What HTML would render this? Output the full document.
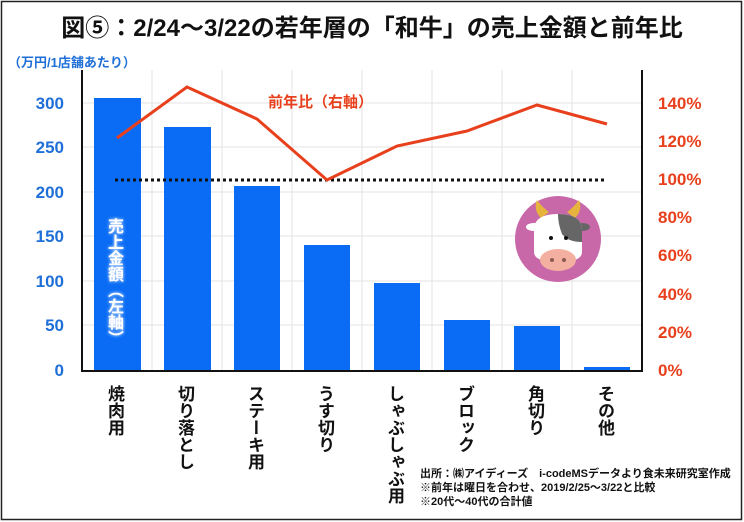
<!DOCTYPE html>
<html><head><meta charset="utf-8"><style>
body{margin:0;background:#fff;}
#c{position:relative;width:744px;height:522px;overflow:hidden;font-family:"Liberation Sans","Noto Sans CJK JP",sans-serif;}
.v{position:absolute;writing-mode:vertical-rl;font-weight:bold;font-size:17px;color:#111;line-height:1;letter-spacing:0px;font-family:"Noto Sans CJK JP",sans-serif;}
</style></head><body><div id="c">
<svg width="744" height="522" style="position:absolute;left:0;top:0" font-family="Liberation Sans, Noto Sans CJK JP, sans-serif">
<rect x="1.5" y="1.5" width="740" height="518" fill="#fff" stroke="#222" stroke-width="1.5"/>
<text x="372" y="36" text-anchor="middle" font-size="24" font-weight="bold" fill="#111">図⑤：2/24～3/22の若年層の「和牛」の売上金額と前年比</text>
<text x="8" y="67" font-size="13" font-weight="bold" fill="#1f6fd8">（万円/1店舗あたり）</text>
<g stroke="#e3e3e3" stroke-width="1">
<line x1="152" y1="70" x2="152" y2="370"/><line x1="222" y1="70" x2="222" y2="370"/><line x1="292" y1="70" x2="292" y2="370"/><line x1="362" y1="70" x2="362" y2="370"/><line x1="432" y1="70" x2="432" y2="370"/><line x1="502" y1="70" x2="502" y2="370"/><line x1="572" y1="70" x2="572" y2="370"/>
<line x1="82" y1="103" x2="642" y2="103"/><line x1="82" y1="147" x2="642" y2="147"/><line x1="82" y1="192" x2="642" y2="192"/><line x1="82" y1="236" x2="642" y2="236"/><line x1="82" y1="281" x2="642" y2="281"/><line x1="82" y1="325" x2="642" y2="325"/>
</g>
<g fill="#0a6cf5">
<rect x="94" y="98" width="47" height="272"/><rect x="164" y="127" width="47" height="243"/><rect x="234" y="186" width="46" height="184"/><rect x="304" y="245" width="46" height="125"/><rect x="374" y="283" width="46" height="87"/><rect x="444" y="320" width="46" height="50"/><rect x="514" y="326" width="46" height="44"/><rect x="584" y="367" width="46" height="3"/>
</g>
<line x1="115" y1="180" x2="607" y2="180" stroke="#111" stroke-width="3" stroke-dasharray="3,3"/>
<polyline points="117,138 187,87 257,119 327,180 397,146 467,131 537,105 607,124" fill="none" stroke="#e8401c" stroke-width="3"/>
<g stroke="#111" stroke-width="2"><line x1="82" y1="70" x2="82" y2="371"/><line x1="642" y1="70" x2="642" y2="371"/><line x1="81" y1="371" x2="643" y2="371"/></g>
<g font-size="17" font-weight="bold" fill="#1f6fd8" text-anchor="end">
<text x="64" y="109">300</text><text x="64" y="153">250</text><text x="64" y="198">200</text><text x="64" y="242">150</text><text x="64" y="287">100</text><text x="64" y="331">50</text><text x="64" y="376">0</text>
</g>
<g font-size="17" font-weight="bold" fill="#e8401c">
<text x="658" y="109">140%</text><text x="658" y="147">120%</text><text x="658" y="185">100%</text><text x="658" y="223">80%</text><text x="658" y="261">60%</text><text x="658" y="300">40%</text><text x="658" y="338">20%</text><text x="658" y="376">0%</text>
</g>
<text x="268" y="107" font-size="15" font-weight="bold" fill="#e8401c">前年比（右軸）</text>
<circle cx="558" cy="239" r="43" fill="#c868a8"/>
<path d="M541 218 q-8 -8 -4 -18 q6 8 12 12z M575 218 q8 -8 4 -18 q-6 8 -12 12z" fill="#e6b43c"/>
<ellipse cx="534" cy="227" rx="8" ry="4" fill="#fff"/>
<ellipse cx="582" cy="227" rx="8" ry="4" fill="#666"/>
<path d="M534 230 q0 -16 24 -16 q24 0 24 16 l0 22 q0 10 -24 10 q-24 0 -24 -10z" fill="#fff"/>
<path d="M558 214 q24 0 24 16 l0 12 q-14 0 -20 -8 q-4 -10 -4 -20z" fill="#666"/>
<ellipse cx="558" cy="260" rx="18" ry="11" fill="#f3b0a0"/>
<circle cx="552" cy="260" r="2" fill="#8a5a50"/><circle cx="564" cy="260" r="2" fill="#8a5a50"/>
<circle cx="551" cy="238" r="2" fill="#111"/><circle cx="566" cy="238" r="2" fill="#111"/>
<g font-size="11" font-weight="bold" fill="#111">
<text x="420" y="477">出所：㈱アイディーズ　i-codeMSデータより食未来研究室作成</text>
<text x="420" y="491">※前年は曜日を合わせ、2019/2/25～3/22と比較</text>
<text x="420" y="505">※20代～40代の合計値</text>
</g>
</svg>
<div class="v" style="left:108px;top:218px;color:#fff;font-size:16px;text-shadow:0 0 3px #fff">売上金額（左軸）</div>
<div class="v" style="left:108px;top:385px">焼肉用</div>
<div class="v" style="left:178px;top:385px">切り落とし</div>
<div class="v" style="left:248px;top:385px">ステーキ用</div>
<div class="v" style="left:318px;top:385px">うす切り</div>
<div class="v" style="left:388px;top:385px">しゃぶしゃぶ用</div>
<div class="v" style="left:458px;top:385px">ブロック</div>
<div class="v" style="left:528px;top:385px">角切り</div>
<div class="v" style="left:598px;top:385px">その他</div>
</div></body></html>
